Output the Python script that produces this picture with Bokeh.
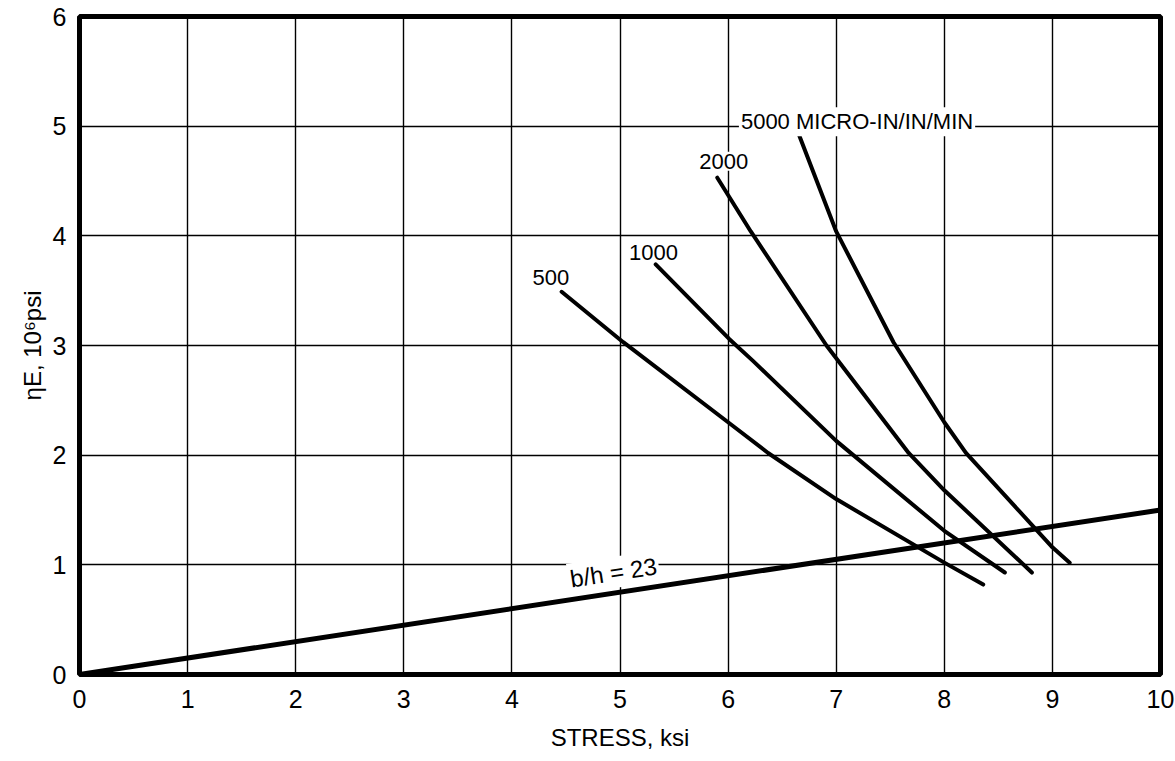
from bokeh.plotting import figure
from bokeh.models import Range1d, Label, FixedTicker
from bokeh.embed import file_html
from bokeh.resources import INLINE

# ---- data ----
x_ticks = [0, 1, 2, 3, 4, 5, 6, 7, 8, 9, 10]
y_ticks = [0, 1, 2, 3, 4, 5, 6]

rate_labels = ["500", "1000", "2000", "5000 MICRO-IN/IN/MIN"]

c500_x = [4.46, 5.03, 6.0, 6.37, 7.0, 8.0, 8.36]
c500_y = [3.49, 3.03, 2.30, 2.02, 1.60, 1.02, 0.82]

c1000_x = [5.33, 6.01, 6.23, 7.0, 8.0, 8.56]
c1000_y = [3.74, 3.06, 2.86, 2.13, 1.31, 0.93]

c2000_x = [5.9, 6.21, 6.91, 7.67, 8.0, 8.81]
c2000_y = [4.53, 4.04, 3.0, 2.02, 1.68, 0.93]

c5000_x = [6.66, 7.0, 7.53, 8.0, 8.2, 9.0, 9.16]
c5000_y = [4.91, 4.04, 3.03, 2.30, 2.02, 1.16, 1.02]

bh_label = "b/h = 23"
bh_x = [0, 10]
bh_y = [0, 1.5]

FONT = "Liberation Sans"

p = figure(width=1175, height=761, output_backend="svg", toolbar_location=None,
           x_range=Range1d(0, 10), y_range=Range1d(0, 6),
           min_border_left=79, min_border_right=15, min_border_top=16, min_border_bottom=87)

p.background_fill_color = "white"
p.border_fill_color = "white"
p.outline_line_color = "black"
p.outline_line_width = 5

for ax in (p.xaxis, p.yaxis):
    ax.axis_line_color = None
    ax.major_tick_line_color = None
    ax.minor_tick_line_color = None
    ax.major_label_text_font = FONT
    ax.major_label_text_font_size = "25px"
    ax.major_label_text_color = "black"
    ax.axis_label_text_font = FONT
    ax.axis_label_text_font_size = "24px"
    ax.axis_label_text_font_style = "normal"
    ax.axis_label_text_color = "black"

p.xaxis.ticker = FixedTicker(ticks=x_ticks)
p.yaxis.ticker = FixedTicker(ticks=y_ticks)
p.xaxis.major_label_standoff = 9
p.yaxis.major_label_standoff = 7
p.xaxis.axis_label = "STRESS, ksi"
p.yaxis.axis_label = "\u03b7E, 10\u2076psi"
p.xaxis.axis_label_standoff = 13
p.yaxis.axis_label_standoff = 4

p.xgrid.ticker = FixedTicker(ticks=x_ticks)
p.ygrid.ticker = FixedTicker(ticks=y_ticks)
for g in (p.xgrid, p.ygrid):
    g.grid_line_color = "black"
    g.grid_line_width = 1.4

# curves
for xs, ys in ((c500_x, c500_y), (c1000_x, c1000_y), (c2000_x, c2000_y), (c5000_x, c5000_y)):
    p.line(xs, ys, line_color="black", line_width=4, line_cap="round", line_join="round")

p.line(bh_x, bh_y, line_color="black", line_width=5, line_cap="round")

# labels (white background interrupts the grid like in the reference)
label_pos = [(4.36, 3.62, "center"), (5.31, 3.85, "center"), (5.96, 4.68, "center"), (6.10, 5.04, "left")]
for (lx, ly, al), txt in zip(label_pos, rate_labels):
    p.add_layout(Label(x=lx, y=ly, text=txt, text_align=al, text_baseline="middle",
                       text_font=FONT, text_font_size="22px", text_color="black",
                       background_fill_color="white", padding=2))

p.add_layout(Label(x=4.94, y=0.93, text=bh_label, text_align="center", text_baseline="middle",
                   angle=0.152, text_font=FONT, text_font_size="24px", text_color="black",
                   background_fill_color="white", padding=2))

open("out.html", "w").write(file_html(p, INLINE))
